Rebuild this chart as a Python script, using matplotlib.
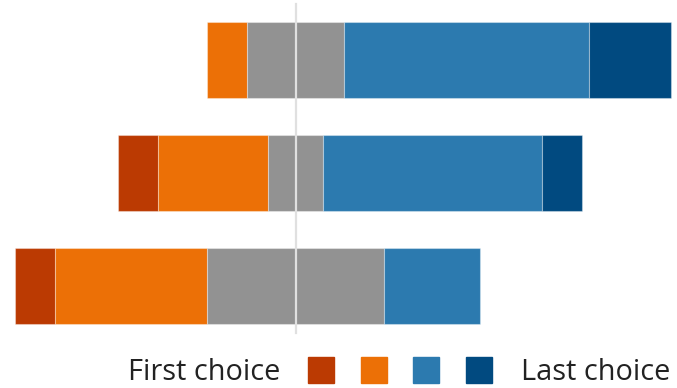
import matplotlib.pyplot as plt
from matplotlib.patches import Rectangle

plt.rcParams['font.family'] = ['Open Sans', 'DejaVu Sans']

# share of answers (%) per rank, bars from top to bottom
rows = ['A', 'B', 'C']
first = [0.0, 8.7, 8.7]
second = [8.8, 23.6, 32.6]
neutral = [20.7, 12.0, 38.3]
fourth = [53.0, 47.2, 20.6]
last = [17.6, 8.6, 0.0]

colors = ['#bb3a02', '#ec7006', '#929292', '#2c7aaf', '#014a80']

W, H = 677, 388
fig = plt.figure(figsize=(W / 100, H / 100), dpi=100)

# axes placed in pixel units
ax_bottom = 48
ax = fig.add_axes([0, ax_bottom / H, 1, 1 - ax_bottom / H])
ax.set_xlim((0 - 295.5) / 4.64, (W - 295.5) / 4.64)
ax.set_ylim(2 + 54 / 113, -60 / 113)
ax.axis('off')

ypos = range(len(rows))
for i in ypos:
    segs = [first[i], second[i], neutral[i], fourth[i], last[i]]
    left = -(first[i] + second[i] + neutral[i] / 2)
    for val, c in zip(segs, colors):
        if val > 0:
            ax.barh(i, val, left=left, height=0.664, color=c,
                    edgecolor=(1, 1, 1, 0.35), linewidth=0.8)
        left += val

# center line
y_top, y_bot = 4, 333
h_ax = H - ax_bottom
ax.axvline(0, ymin=1 - y_bot / h_ax, ymax=1 - y_top / h_ax,
           color='#e0e0e0', linewidth=1.6, zorder=5)

# legend row
ty = 1 - 380 / H
fig.text(128 / W, ty, 'First choice', fontsize=20.8, color='#222222',
         ha='left', va='baseline')
fig.text(670 / W, ty, 'Last choice', fontsize=20.8, color='#222222',
         ha='right', va='baseline')
sq_x = [308, 361, 413, 466]
sq_colors = [colors[0], colors[1], colors[3], colors[4]]
for x, c in zip(sq_x, sq_colors):
    fig.patches.append(Rectangle((x / W, 1 - 383 / H), 26 / W, 26 / H,
                                 transform=fig.transFigure, color=c))

fig.savefig('out.png', dpi=100)
